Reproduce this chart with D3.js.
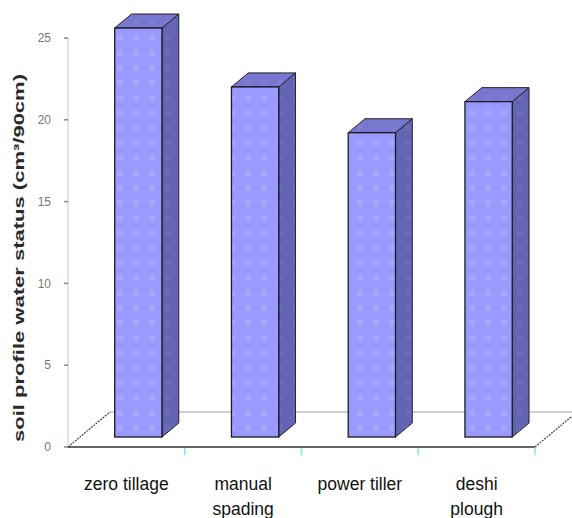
<!DOCTYPE html>
<html>
<head>
<meta charset="utf-8">
<script src="https://cdn.jsdelivr.net/npm/d3@7"></script>
<style>
  html, body { margin: 0; padding: 0; background: #fff; overflow: hidden; }
  svg { display: block; font-family: Arial, "Liberation Sans", sans-serif; }
</style>
</head>
<body>
<svg id="chart" width="572" height="518"></svg>
<script>
// ---- data ----
const categories = [["zero tillage"], ["manual", "spading"], ["power tiller"], ["deshi", "plough"]];
const categoryKeys = ["zero tillage", "manual spading", "power tiller", "deshi plough"];
const values = [25.0, 21.4, 18.6, 20.5];
const yTicks = [0, 5, 10, 15, 20, 25];
const yLabel = "soil profile water status (cm\u00B3/90cm)";

// ---- layout ----
const svg = d3.select("#chart");
const plotLeft = 68, plotRight = 535, plotTop = 38, plotBottom = 447;
const floorDX = 42, floorDY = -35;      // depth vector of the floor
const barFront = 0.285, barBack = 0.685; // bar depth placement (fraction of floor depth)

const x = d3.scaleBand().domain(categoryKeys).range([plotLeft, plotRight]).padding(0);
const y = d3.scaleLinear().domain([0, 25]).range([plotBottom, plotTop]);
const barW = x.bandwidth() * 0.405;

// patterns
const defs = svg.append("defs");
function dotPattern(id, bg, dot) {
  const p = defs.append("pattern").attr("id", id).attr("patternUnits", "userSpaceOnUse")
    .attr("width", 16).attr("height", 15);
  p.append("rect").attr("width", 16).attr("height", 15).attr("fill", bg);
  p.append("rect").attr("x", 5).attr("y", 5).attr("width", 6).attr("height", 6).attr("fill", dot);
}
dotPattern("frontPat", "#9999ff", "#a5a5ff");
dotPattern("sidePat", "#6464b4", "#6b6bba");
dotPattern("topPat", "#7777d0", "#7d7dd4");

// floor
const floor = svg.append("g");
floor.append("line").attr("x1", plotLeft + floorDX).attr("y1", plotBottom + floorDY)
  .attr("x2", 580).attr("y2", plotBottom + floorDY)
  .attr("stroke", "#d0d0d0").attr("stroke-width", 2);
floor.append("line").attr("x1", plotLeft).attr("y1", plotBottom)
  .attr("x2", plotLeft + floorDX).attr("y2", plotBottom + floorDY)
  .attr("stroke", "#444").attr("stroke-width", 1.2).attr("stroke-dasharray", "2,1");
floor.append("line").attr("x1", plotRight).attr("y1", plotBottom)
  .attr("x2", plotRight + floorDX).attr("y2", plotBottom + floorDY)
  .attr("stroke", "#444").attr("stroke-width", 1.2).attr("stroke-dasharray", "2,1");

// y axis
const yAxis = svg.append("g");
yAxis.append("line").attr("x1", plotLeft).attr("x2", plotLeft)
  .attr("y1", plotTop).attr("y2", plotBottom).attr("stroke", "#c8c8c8").attr("stroke-width", 1);
yAxis.selectAll(".tk").data(yTicks).join("line")
  .attr("x1", plotLeft - 4).attr("x2", plotLeft)
  .attr("y1", d => y(d)).attr("y2", d => y(d))
  .attr("stroke", "#888").attr("stroke-width", 1.5);
yAxis.selectAll(".tl").data(yTicks).join("text")
  .attr("x", 51).attr("y", d => y(d)).attr("dy", "0.35em")
  .attr("text-anchor", "end").attr("font-size", 12).attr("fill", "#777")
  .text(d => d);

// y label
svg.append("text")
  .attr("transform", "translate(24,258) rotate(-90)")
  .attr("text-anchor", "middle")
  .attr("font-size", 14).attr("font-weight", "bold").attr("fill", "#2a2a2a")
  .attr("textLength", 368).attr("lengthAdjust", "spacingAndGlyphs")
  .text(yLabel);

// front floor edge + category ticks
svg.append("line").attr("x1", plotLeft).attr("x2", plotRight)
  .attr("y1", plotBottom).attr("y2", plotBottom)
  .attr("stroke", "#333").attr("stroke-width", 1.6);
svg.selectAll(".ct").data(categoryKeys.slice(1).map(k => x(k)).concat([plotRight])).join("line")
  .attr("x1", d => d).attr("x2", d => d)
  .attr("y1", plotBottom + 1).attr("y2", plotBottom + 8)
  .attr("stroke", "#7fe8f0").attr("stroke-width", 1.5);

// bars
const bdx0 = floorDX * barFront, bdy0 = floorDY * barFront;
const ddx = floorDX * (barBack - barFront), ddy = floorDY * (barBack - barFront);
const bars = svg.append("g");
values.forEach((v, i) => {
  const k = categoryKeys[i];
  const xl = x(k) + x.bandwidth() / 2 - barW / 2 + bdx0;
  const xr = xl + barW;
  const yb = y(0) + bdy0;
  const yt = y(v) + bdy0;
  const g = bars.append("g");
  g.append("path")
    .attr("d", `M${xr},${yb} L${xr + ddx},${yb + ddy} L${xr + ddx},${yt + ddy} L${xr},${yt} Z`)
    .attr("fill", "url(#sidePat)").attr("stroke", "#222").attr("stroke-width", 1).attr("stroke-linejoin", "round");
  g.append("path")
    .attr("d", `M${xl},${yt} L${xl + ddx},${yt + ddy} L${xr + ddx},${yt + ddy} L${xr},${yt} Z`)
    .attr("fill", "url(#topPat)").attr("stroke", "#222").attr("stroke-width", 1).attr("stroke-linejoin", "round");
  g.append("rect").attr("x", xl).attr("y", yt).attr("width", barW).attr("height", yb - yt)
    .attr("fill", "url(#frontPat)").attr("stroke", "#1a1a1a").attr("stroke-width", 1.3);
});

// category labels
const labels = svg.append("g");
categories.forEach((lines, i) => {
  const cx = x(categoryKeys[i]) + x.bandwidth() / 2;
  const t = labels.append("text").attr("text-anchor", "middle")
    .attr("font-size", 17.5).attr("fill", "#111");
  lines.forEach((ln, j) => {
    t.append("tspan").attr("x", cx).attr("y", 490 + j * 25).text(ln);
  });
});
</script>
</body>
</html>
